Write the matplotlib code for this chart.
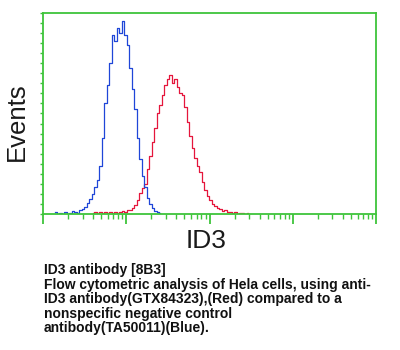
import numpy as np
import matplotlib
matplotlib.use("Agg")
import matplotlib.pyplot as plt
from matplotlib.ticker import LogLocator, MultipleLocator, NullFormatter

plt.rcParams["font.family"] = ["Liberation Sans", "DejaVu Sans"]

# ---------------- DATA ----------------
# histogram counts, channels spaced 0.03 decades apart
step = 0.03
blue_start = 0.15
blue_counts = [2, 0, 1, 0, 2, 0, 1, 3, 2, 1, 4, 5, 7, 11, 15, 20, 27, 34, 48, 76,
               110, 128, 150, 178, 172, 185, 180, 192, 178, 168, 145, 124, 104, 76, 55,
               38, 27, 16, 10, 6, 3, 2, 1]
red_start = 0.60
red_counts = [1, 2, 1, 2, 1, 2, 1, 2, 1, 2, 1, 2, 3, 2, 4, 4, 6, 9, 14, 21,
              26, 30, 45, 58, 72, 86, 100, 108, 118, 128, 134, 138, 130, 134, 126, 120,
              118, 106, 92, 78, 66, 56, 48, 42, 32, 24, 18, 14, 10, 8, 6, 5, 3, 4,
              2, 2, 1, 2, 0, 1, 1, 0, 1]

x_label = "ID3"
y_label = "Events"
caption = [
    "ID3 antibody [8B3]",
    "Flow cytometric analysis of Hela cells, using anti-",
    "ID3 antibody(GTX84323),(Red) compared to a",
    "nonspecific negative control",
    "antibody(TA50011)(Blue).",
]

green = "#3ec43a"

# ---------------- PLOT ----------------
fig = plt.figure(figsize=(4, 3.5), dpi=100)
ax = fig.add_axes([43 / 400, 1 - 214 / 350, 333 / 400, 201 / 350])

blue_x = 10 ** (blue_start + step * np.arange(len(blue_counts)))
red_x = 10 ** (red_start + step * np.arange(len(red_counts)))

ax.step(red_x, red_counts, where="mid", color="#e5163c", lw=0.9)
ax.step(blue_x, blue_counts, where="mid", color="#1f46d8", lw=0.9)

ax.set_xscale("log")
ax.set_xlim(1, 1e4)
ax.set_ylim(0, 200)

for s in ax.spines.values():
    s.set_color(green)
    s.set_linewidth(1.3)

ax.xaxis.set_major_locator(LogLocator(base=10, numticks=10))
ax.xaxis.set_minor_locator(LogLocator(base=10, subs=np.arange(2, 10), numticks=10))
ax.xaxis.set_major_formatter(NullFormatter())
ax.xaxis.set_minor_formatter(NullFormatter())
ax.yaxis.set_major_locator(MultipleLocator(10))
ax.yaxis.set_major_formatter(NullFormatter())

ax.tick_params(axis="x", which="major", direction="out", length=7, width=1.3, color=green)
ax.tick_params(axis="x", which="minor", direction="out", length=3.5, width=1.0, color=green)
ax.tick_params(axis="y", which="major", direction="out", length=2.5, width=1.0, color=green)

fig.text(17 / 400, 1 - 122 / 350, y_label, rotation=90, ha="center", va="center",
         fontsize=18.5, color="#1a1a1a")
fig.text(206 / 400, 1 - 241 / 350, x_label, ha="center", va="center",
         fontsize=19, color="#1a1a1a")

for i, line in enumerate(caption):
    fig.text(44 / 400, 1 - (270 + 14.6 * i) / 350, line, ha="left", va="center",
             fontsize=10, fontweight="bold", color="#111111")

fig.savefig("out.png", dpi=100)
